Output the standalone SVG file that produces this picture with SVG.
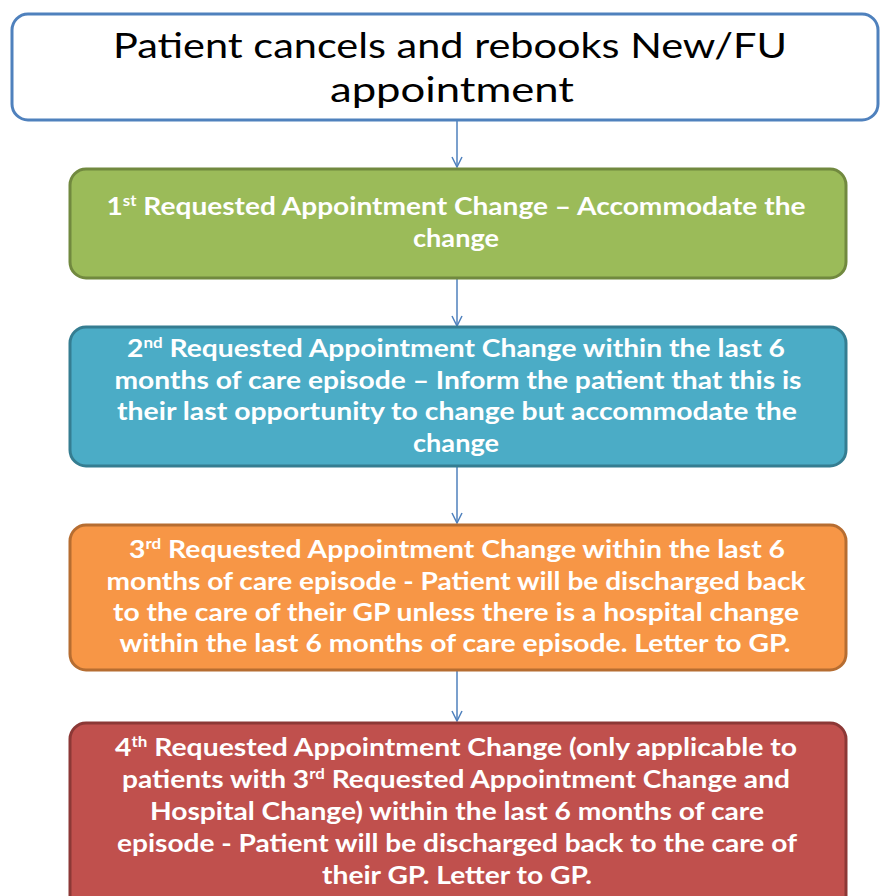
<svg xmlns="http://www.w3.org/2000/svg" width="880" height="896" viewBox="0 0 880 896">
<style>
.box{stroke-width:3}
.t{font-family:Lato,"Open Sans","Liberation Sans",sans-serif;font-weight:bold;font-size:25px;fill:#ffffff;text-anchor:middle}
.sup{font-size:15px}
.top{font-family:Lato,"Open Sans","Liberation Sans",sans-serif;font-size:34px;fill:#000000;text-anchor:middle}
.conn{stroke:#4f81bd;stroke-width:1.5;fill:none}
</style>
<defs>
<marker id="arr" viewBox="0 0 12 12" refX="11" refY="6" markerWidth="12" markerHeight="12" markerUnits="userSpaceOnUse" orient="auto">
<path d="M1,1 L11,6 L1,11" fill="none" stroke="#4f81bd" stroke-width="1.5"/>
</marker>
</defs>
<rect width="880" height="896" fill="#ffffff"/>
<g id="connectors">
<line class="conn" x1="457" y1="121" x2="457" y2="167" marker-end="url(#arr)"/>
<line class="conn" x1="457" y1="279" x2="457" y2="326" marker-end="url(#arr)"/>
<line class="conn" x1="457" y1="467" x2="457" y2="523" marker-end="url(#arr)"/>
<line class="conn" x1="457" y1="671" x2="457" y2="721" marker-end="url(#arr)"/>
</g>
<g id="start">
<rect class="box" x="12" y="14" width="866" height="106" rx="16" fill="#ffffff" stroke="#4f81bd"/>
<text class="top" x="450" y="58" textLength="674" lengthAdjust="spacingAndGlyphs">Patient cancels and rebooks New/FU</text>
<text class="top" x="452" y="102" textLength="244" lengthAdjust="spacingAndGlyphs">appointment</text>
</g>
<g id="step1">
<rect class="box" x="70" y="169" width="776" height="109" rx="16" fill="#9bbb59" stroke="#71893f"/>
<text class="t" x="456" y="215" textLength="699" lengthAdjust="spacingAndGlyphs">1<tspan class="sup" dy="-9">st</tspan><tspan dy="9"> Requested Appointment Change – Accommodate the</tspan></text>
<text class="t" x="456" y="247" textLength="86" lengthAdjust="spacingAndGlyphs">change</text>
</g>
<g id="step2">
<rect class="box" x="70" y="327" width="776" height="139" rx="16" fill="#4bacc6" stroke="#357d91"/>
<text class="t" x="456" y="357" textLength="658" lengthAdjust="spacingAndGlyphs">2<tspan class="sup" dy="-9">nd</tspan><tspan dy="9"> Requested Appointment Change within the last 6</tspan></text>
<text class="t" x="458" y="389" textLength="687" lengthAdjust="spacingAndGlyphs">months of care episode – Inform the patient that this is</text>
<text class="t" x="457" y="420" textLength="680" lengthAdjust="spacingAndGlyphs">their last opportunity to change but accommodate the</text>
<text class="t" x="456" y="452" textLength="86" lengthAdjust="spacingAndGlyphs">change</text>
</g>
<g id="step3">
<rect class="box" x="70" y="525" width="776" height="145" rx="16" fill="#f79646" stroke="#b66d31"/>
<text class="t" x="457" y="558" textLength="656" lengthAdjust="spacingAndGlyphs">3<tspan class="sup" dy="-9">rd</tspan><tspan dy="9"> Requested Appointment Change within the last 6</tspan></text>
<text class="t" x="456" y="590" textLength="699" lengthAdjust="spacingAndGlyphs">months of care episode - Patient will be discharged back</text>
<text class="t" x="456" y="621" textLength="686" lengthAdjust="spacingAndGlyphs">to the care of their GP unless there is a hospital change</text>
<text class="t" x="455" y="652" textLength="671" lengthAdjust="spacingAndGlyphs">within the last 6 months of care episode. Letter to GP.</text>
</g>
<g id="step4">
<rect class="box" x="70" y="723" width="776" height="190" rx="16" fill="#c0504d" stroke="#8c3836"/>
<text class="t" x="456" y="756" textLength="682" lengthAdjust="spacingAndGlyphs">4<tspan class="sup" dy="-9">th</tspan><tspan dy="9"> Requested Appointment Change (only applicable to</tspan></text>
<text class="t" x="456" y="788" textLength="668" lengthAdjust="spacingAndGlyphs">patients with 3<tspan class="sup" dy="-9">rd</tspan><tspan dy="9"> Requested Appointment Change and</tspan></text>
<text class="t" x="457" y="820" textLength="614" lengthAdjust="spacingAndGlyphs">Hospital Change) within the last 6 months of care</text>
<text class="t" x="457" y="852" textLength="680" lengthAdjust="spacingAndGlyphs">episode - Patient will be discharged back to the care of</text>
<text class="t" x="457" y="884" textLength="270" lengthAdjust="spacingAndGlyphs">their GP. Letter to GP.</text>
</g>
</svg>
